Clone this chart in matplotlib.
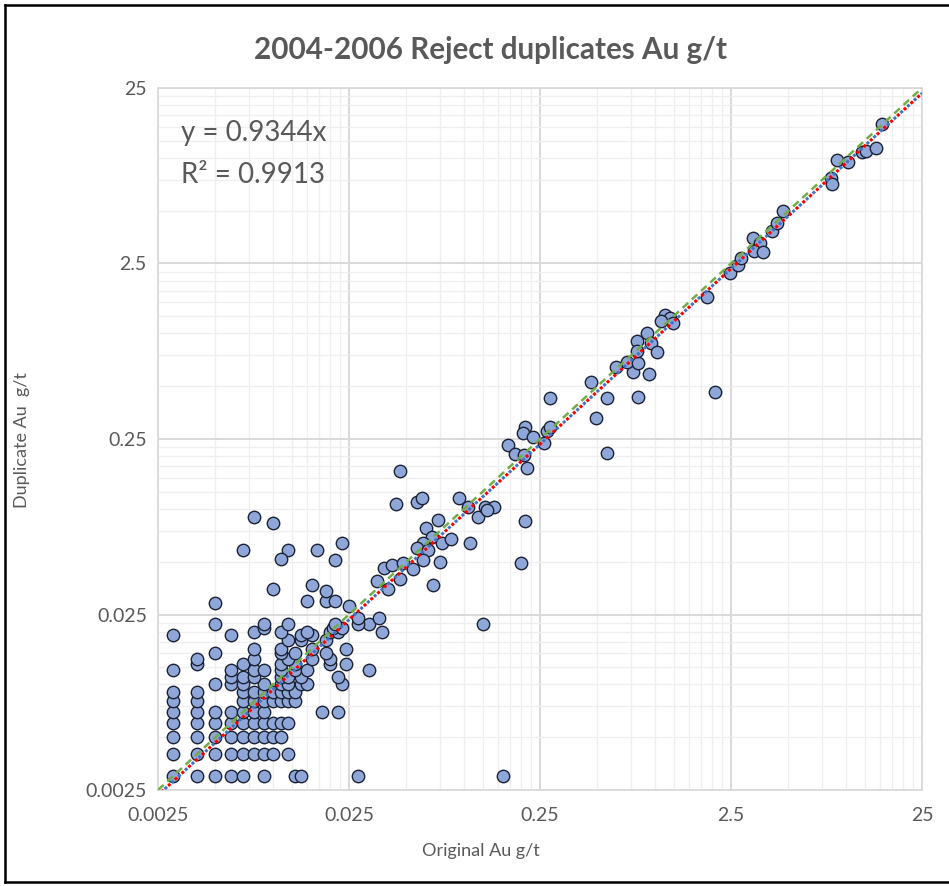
import numpy as np
import matplotlib
matplotlib.use("Agg")
import matplotlib.pyplot as plt
from matplotlib.ticker import FixedLocator, FixedFormatter, NullFormatter
from matplotlib.lines import Line2D

# Original vs. duplicate Au assays (g/t)
original_au = [
    # duplicate 0.003
    0.003, 0.004, 0.005, 0.006, 0.007, 0.009, 0.013, 0.014, 0.028, 0.16,
    # duplicate 0.004
    0.003, 0.004, 0.005, 0.006, 0.007, 0.008, 0.009, 0.010, 0.012,
    # duplicate 0.005
    0.003, 0.004, 0.005, 0.006, 0.007, 0.008, 0.009, 0.010, 0.011,
    # duplicate 0.006
    0.003, 0.004, 0.005, 0.006, 0.007, 0.008, 0.009, 0.010, 0.011, 0.012,
    # duplicate 0.007
    0.003, 0.004, 0.005, 0.006, 0.007, 0.008, 0.009, 0.018, 0.022,
    # duplicate 0.008
    0.003, 0.004, 0.007, 0.008, 0.009, 0.010, 0.011, 0.012, 0.013,
    # duplicate 0.009
    0.003, 0.004, 0.007, 0.008, 0.009, 0.010, 0.011, 0.012, 0.013,
    # duplicate 0.010
    0.005, 0.006, 0.007, 0.009, 0.011, 0.012, 0.014, 0.015, 0.023,
    # duplicate 0.011
    0.006, 0.007, 0.008, 0.011, 0.012, 0.014, 0.022,
    # duplicate 0.012
    0.003, 0.006, 0.008, 0.009, 0.011, 0.013, 0.015, 0.032,
    # duplicate 0.013
    0.004, 0.007, 0.011, 0.013, 0.020, 0.024,
    # duplicate 0.014
    0.004, 0.008, 0.012, 0.016, 0.020,
    # duplicate 0.015
    0.005, 0.011, 0.013, 0.019,
    # duplicate 0.016
    0.008, 0.011, 0.016, 0.024,
    # duplicate 0.018
    0.012, 0.014, 0.019,
    # duplicate 0.019
    0.003, 0.006, 0.014, 0.016,
    # duplicate 0.020
    0.008, 0.011, 0.015, 0.020, 0.022, 0.037,
    # duplicate 0.021
    0.009, 0.0205, 0.023,
    # duplicate 0.022
    0.005, 0.009, 0.012, 0.021, 0.032, 0.028,
    # duplicate 0.024
    0.028, 0.036,
    # 0.025 - 0.2
    0.005, 0.025, 0.015, 0.019, 0.021, 0.019, 0.010, 0.016, 0.069,
    0.035, 0.046, 0.040, 0.038, 0.042, 0.048, 0.054,
    0.007, 0.012, 0.011, 0.017, 0.023, 0.021,
    0.008, 0.010, 0.073,
    0.044, 0.057, 0.060, 0.046,
    0.063, 0.068, 0.077, 0.085, 0.061, 0.057, 0.065, 0.075, 0.061,
    0.094, 0.105, 0.119, 0.129, 0.143, 0.132, 0.108,
    0.126, 0.198, 0.209,
    # 0.15 - 1
    0.171, 0.185, 0.206, 0.215, 0.209, 0.203, 0.231, 0.271, 0.282, 0.262,
    0.282, 0.461, 0.563, 0.81, 0.49, 0.563, 2.06,
    0.625, 0.764, 0.933, 0.716, 0.818, 0.906, 0.801, 0.95, 0.801, 1.03,
    # > 1
    1.13, 1.20, 1.07, 1.24, 1.87,
    2.47, 2.73, 2.81, 3.25, 3.55, 3.30, 3.69, 4.08, 4.34, 4.70,
    8.35, 8.4, 8.97, 10.25, 12.1, 12.7, 14.4, 15.5,
]

duplicate_au = [
    0.003, 0.003, 0.003, 0.003, 0.003, 0.003, 0.003, 0.003, 0.003, 0.003,
    0.004, 0.004, 0.004, 0.004, 0.004, 0.004, 0.004, 0.004, 0.004,
    0.005, 0.005, 0.005, 0.005, 0.005, 0.005, 0.005, 0.005, 0.005,
    0.006, 0.006, 0.006, 0.006, 0.006, 0.006, 0.006, 0.006, 0.006, 0.006,
    0.007, 0.007, 0.007, 0.007, 0.007, 0.007, 0.007, 0.007, 0.007,
    0.008, 0.008, 0.008, 0.008, 0.008, 0.008, 0.008, 0.008, 0.008,
    0.009, 0.009, 0.009, 0.009, 0.009, 0.009, 0.009, 0.009, 0.009,
    0.010, 0.010, 0.010, 0.010, 0.010, 0.010, 0.010, 0.010, 0.010,
    0.011, 0.011, 0.011, 0.011, 0.011, 0.011, 0.011,
    0.012, 0.012, 0.012, 0.012, 0.012, 0.012, 0.012, 0.012,
    0.013, 0.013, 0.013, 0.013, 0.013, 0.013,
    0.014, 0.014, 0.014, 0.014, 0.014,
    0.015, 0.015, 0.015, 0.015,
    0.016, 0.016, 0.016, 0.016,
    0.018, 0.018, 0.018,
    0.019, 0.019, 0.019, 0.019,
    0.020, 0.020, 0.020, 0.020, 0.020, 0.020,
    0.021, 0.021, 0.021,
    0.022, 0.022, 0.022, 0.022, 0.022, 0.022,
    0.024, 0.024,
    0.029, 0.028, 0.030, 0.030, 0.030, 0.034, 0.035, 0.037, 0.037,
    0.039, 0.040, 0.035, 0.046, 0.048, 0.049, 0.0455,
    0.058, 0.058, 0.052, 0.058, 0.064, 0.051,
    0.090, 0.083, 0.086,
    0.107, 0.110, 0.115, 0.165,
    0.078, 0.069, 0.064, 0.067, 0.064, 0.060, 0.058, 0.050, 0.051,
    0.116, 0.103, 0.090, 0.103, 0.102, 0.099, 0.064,
    0.022, 0.049, 0.085,
    0.231, 0.206, 0.203, 0.170, 0.294, 0.272, 0.256, 0.276, 0.294, 0.236,
    0.427, 0.53, 0.427, 0.435, 0.328, 0.207, 0.461,
    0.641, 0.605, 0.587, 0.689, 0.675, 1.01, 0.908, 0.885, 0.796, 0.786,
    1.27, 1.22, 1.18, 1.14, 1.62,
    2.22, 2.45, 2.68, 3.48, 3.29, 2.96, 2.92, 3.85, 4.27, 5.0,
    7.7, 7.1, 9.7, 9.47, 10.8, 10.9, 11.4, 15.6,
]

slope = 0.9344
r_squared = 0.9913
axis_min, axis_max = 0.0025, 25
tick_values = [0.0025, 0.025, 0.25, 2.5, 25]
tick_labels = ["0.0025", "0.025", "0.25", "2.5", "25"]

TEXT = "#595959"
FONT = "Lato"

fig = plt.figure(figsize=(9.49, 8.86), dpi=100)
ax = fig.add_axes([158 / 949, 1 - 790 / 886, (922 - 158) / 949, (790 - 88) / 886])

ax.set_xscale("log")
ax.set_yscale("log")
ax.set_xlim(axis_min, axis_max)
ax.set_ylim(axis_min, axis_max)

minor_vals = [k * t for t in tick_values[:-1] for k in range(2, 10)]
for axis in (ax.xaxis, ax.yaxis):
    axis.set_major_locator(FixedLocator(tick_values))
    axis.set_major_formatter(FixedFormatter(tick_labels))
    axis.set_minor_locator(FixedLocator(minor_vals))
    axis.set_minor_formatter(NullFormatter())

ax.grid(True, which="major", color="#D9D9D9", linewidth=1.4, zorder=0)
ax.grid(True, which="minor", color="#EFEFEF", linewidth=0.9, zorder=0)
ax.set_axisbelow(True)
ax.tick_params(which="both", length=0)
ax.tick_params(axis="x", pad=12)
ax.tick_params(axis="y", pad=8)
for lbl in ax.get_xticklabels() + ax.get_yticklabels():
    lbl.set_fontfamily(FONT)
    lbl.set_fontsize(14)
    lbl.set_color(TEXT)
for sp in ax.spines.values():
    sp.set_color("#D9D9D9")
    sp.set_linewidth(1.2)

ax.scatter(original_au, duplicate_au, s=80, facecolor="#8FA6D9",
           edgecolor="#1B2233", linewidth=1.0, zorder=3)

# Trend lines: 1:1 line and the fitted through-origin regression
line_x = np.array([axis_min, axis_max])
ax.plot(line_x, line_x, color="#70AD47", linewidth=1.8,
        linestyle=(0, (3, 2)), zorder=4)
ax.plot(line_x, slope * line_x, color="#4472C4", linewidth=2.2,
        linestyle=(0, (1, 2)), zorder=5)
ax.plot(line_x, slope * line_x, color="#FF0000", linewidth=2.2,
        linestyle=(1.5, (1, 2)), zorder=5)

ax.text(0.03, 0.955, f"y = {slope}x", transform=ax.transAxes,
        fontsize=20, color=TEXT, family=FONT, va="top", ha="left")
ax.text(0.03, 0.895, f"R² = {r_squared}", transform=ax.transAxes,
        fontsize=20, color=TEXT, family=FONT, va="top", ha="left")

fig.text(491 / 949, 1 - 50 / 886, "2004-2006 Reject duplicates Au g/t",
         fontsize=21.3, fontweight="bold", color=TEXT, family=FONT,
         ha="center", va="center")
fig.text(481 / 949, 1 - 851 / 886, "Original Au g/t", fontsize=13,
         color=TEXT, family=FONT, ha="center", va="center")
fig.text(22 / 949, 1 - 440 / 886, "Duplicate Au  g/t", fontsize=13,
         color=TEXT, family=FONT, ha="center", va="center", rotation=90)

# Chart frame (open on the right)
for xs, ys in [((5, 949), (5, 5)), ((5, 5), (5, 882)), ((5, 949), (882, 882))]:
    fig.add_artist(Line2D([x / 949 for x in xs], [1 - y / 886 for y in ys],
                          color="black", linewidth=1.8))

fig.savefig("out.png", dpi=100)
